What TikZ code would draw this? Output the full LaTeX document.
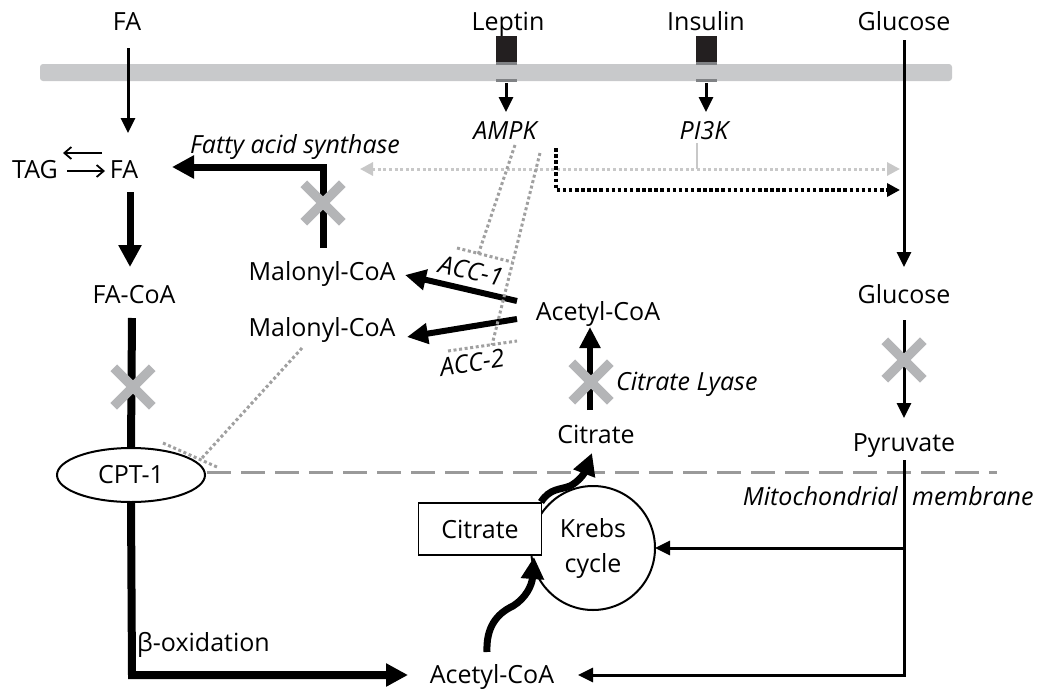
\documentclass[tikz,border=0pt]{standalone}
\usepackage{fontspec}
\setmainfont{Open Sans}
\usetikzlibrary{arrows.meta,shapes.geometric,shapes.misc}
\definecolor{membr}{HTML}{C8C9CB}
\definecolor{xgray}{HTML}{B4B5B7}
\definecolor{ltdot}{HTML}{C8C8C8}
\definecolor{mddot}{HTML}{A0A0A0}
\definecolor{dashgray}{HTML}{9A9A9A}
\definecolor{recept}{HTML}{231F20}
\definecolor{receptbar}{HTML}{808285}
\begin{document}
\begin{tikzpicture}[x=1pt,y=-1pt,
  font=\fontsize{25}{30}\selectfont,
  lbl/.style={inner sep=0pt, text height=17.5pt, text depth=0pt, anchor=center},
  ilbl/.style={lbl, font=\fontsize{25}{30}\selectfont\itshape},
  thinarr/.style={line width=3pt, -{Triangle[length=15pt,width=14pt]}},
  thickarr/.style={line width=7pt, -{Triangle[length=22pt,width=22pt]}},
  thickline/.style={line width=8pt},
  barb/.style={line width=1.8pt, -{Straight Barb[length=7pt,width=12pt]}},
  lightdot/.style={color=ltdot, line width=3pt, dash pattern=on 3pt off 2.6pt},
  blackdot/.style={color=black, line width=3.5pt, dash pattern=on 3.5pt off 2.6pt},
  grdot/.style={color=mddot, line width=3pt, dash pattern=on 3pt off 2.6pt},
  xmark/.style={cross out, draw=xgray, line width=9.5pt, minimum size=29pt, inner sep=0pt},
]
\useasboundingbox (0,0) rectangle (1050,696);
\fill[white] (0,0) rectangle (1050,696);

% plasma membrane
\fill[membr, rounded corners=3pt] (40,64) rectangle (952,81);

% receptors
\fill[recept] (496,36) rectangle (517,62);
\fill[receptbar] (496,62) rectangle (517,65);
\fill[receptbar] (496,79) rectangle (517,82);
\fill[recept] (696,36) rectangle (717,62);
\fill[receptbar] (696,62) rectangle (717,65);
\fill[receptbar] (696,79) rectangle (717,82);

% mitochondrial membrane
\draw[dashgray, line width=3pt, dash pattern=on 24pt off 10pt] (207,472) -- (997,472);

% labels
\node[lbl] (fatop) at (127,22) {FA};
\node[lbl] (leptin) at (508,22) {Leptin};
\node[lbl] (insulin) at (706,22) {Insulin};
\node[lbl] (glctop) at (904,22) {Glucose};
\node[ilbl] (ampk) at (505,131) {AMPK};
\node[ilbl] (pi3k) at (704,131) {PI3K};
\node[lbl] (tag) at (35,170) {TAG};
\node[lbl] (fa) at (124,170) {FA};
\node[ilbl] (fas) at (295,145) {Fatty acid synthase};
\node[lbl] (facoa) at (134,295) {FA-CoA};
\node[lbl] (mal1) at (322,272) {Malonyl-CoA};
\node[lbl] (mal2) at (322,328) {Malonyl-CoA};
\node[ilbl, rotate=-13] (acc1) at (471,271) {ACC-1};
\node[ilbl, rotate=9] (acc2) at (472,363) {ACC-2};
\node[lbl] (acecyt) at (598,312) {Acetyl-CoA};
\node[ilbl, anchor=west] (lyase) at (616,382) {Citrate Lyase};
\node[lbl] (citcyt) at (596,435) {Citrate};
\node[lbl] (glc2) at (904,295) {Glucose};
\node[lbl] (pyr) at (904,443) {Pyruvate};
\node[ilbl, anchor=east] (mito1) at (898,497) {Mitochondrial};
\node[ilbl, anchor=west] (mito2) at (912,497) {membrane};
\node[lbl, anchor=west] (beta) at (137,643) {β-oxidation};
\node[lbl] (acemit) at (492,675) {Acetyl-CoA};

% Krebs cycle and citrate box
\node[circle, draw, line width=2pt, minimum size=124pt, inner sep=0pt, align=center,
      font=\fontsize{25}{35}\selectfont] (krebs) at (593,548) {Krebs\\cycle};
\node[rectangle, draw, fill=white, line width=1.8pt, minimum width=123pt, minimum height=52pt,
      inner sep=0pt] (citbox) at (480,529) {Citrate};

% CPT-1
\node[ellipse, draw, fill=white, line width=2pt, minimum width=148pt, minimum height=54pt,
      inner sep=0pt] (cpt) at (131,475) {CPT-1};

% coordinates
\coordinate (c-fain) at (128,48);
\coordinate (c-fa) at (128,133);
\coordinate (c-lep1) at (506,83);
\coordinate (c-lep2) at (506,112);
\coordinate (c-ins1) at (706,83);
\coordinate (c-ins2) at (706,112);
\coordinate (c-glc1) at (904,40);
\coordinate (c-glc2) at (904,267);
\coordinate (c-glc3) at (904,320);
\coordinate (c-glc4) at (904,418);
\coordinate (c-pyr1) at (904,460);
\coordinate (c-pyrk) at (904,548);
\coordinate (c-pyr2) at (904,675);
\coordinate (c-krebsin) at (655,548);
\coordinate (c-acemit) at (578,675);

% thin black arrows
\draw[thinarr] (c-fain) -- (c-fa);
\draw[thinarr] (c-lep1) -- (c-lep2);
\draw[thinarr] (c-ins1) -- (c-ins2);
\draw[thinarr] (c-glc1) -- (c-glc2);
\draw[thinarr] (c-glc3) -- (c-glc4);
\draw[thinarr] (c-pyr1) -- (c-pyr2) -- (c-acemit);
\draw[thinarr] (c-pyrk) -- (c-krebsin);

% TAG <-> FA
\draw[barb] (102,153) -- (63,153);
\draw[barb] (67,171) -- (105,171);

% thick pathway arrows
\draw[thickarr] (130,192) -- (130,267);
\draw[thickarr] (323,248) -- (323,167) -- (172,167);
\draw[line width=6pt, -{Triangle[length=21pt,width=20pt]}] (517,301) -- (405,275);
\draw[line width=6pt, -{Triangle[length=21pt,width=20pt]}] (517,319) -- (407,337);
\draw[line width=6pt, -{Triangle[length=21pt,width=20pt]}] (590,410) -- (590,327);
\draw[thickline] (132,318) -- (cpt.north);
\draw[line width=8pt, -{Triangle[length=22pt,width=22pt]}] (cpt.south) -- (132,675) -- (408,675);

% wavy arrows
\draw[line width=7pt, -{Triangle[length=22pt,width=22pt]}]
  (541,502) .. controls (550,488) and (560,490) .. (570,486)
  .. controls (578,482) and (584,474) .. (592,453);
\draw[line width=7pt, -{Triangle[length=22pt,width=22pt]}]
  (487,652) .. controls (486,628) and (496,614) .. (513,606)
  .. controls (526,598) and (532,585) .. (534,557);

% signalling dotted lines
\draw[lightdot, {Triangle[length=13pt,width=13pt]}-{Triangle[length=13pt,width=13pt]}] (360,169) -- (900,169);
\draw[ltdot, line width=2pt] (697,143) -- (697,169);
\draw[blackdot, -{Triangle[length=13pt,width=13pt]}] (556,148) -- (556,190) -- (900,190);

% inhibition brackets
\draw[grdot] (515,145) -- (478,255);
\draw[grdot] (457,248) -- (512,262);
\draw[grdot] (540,153) -- (492,345);
\draw[grdot] (448,351) -- (517,341);
\draw[grdot] (302,348) -- (202,458);
\draw[grdot] (163,443) -- (217,467);

% blocked steps
\node[xmark] (x1) at (323,203) {};
\node[xmark] (x2) at (133,387) {};
\node[xmark] (x3) at (591,382) {};
\node[xmark] (x4) at (904,360) {};
\end{tikzpicture}
\end{document}
